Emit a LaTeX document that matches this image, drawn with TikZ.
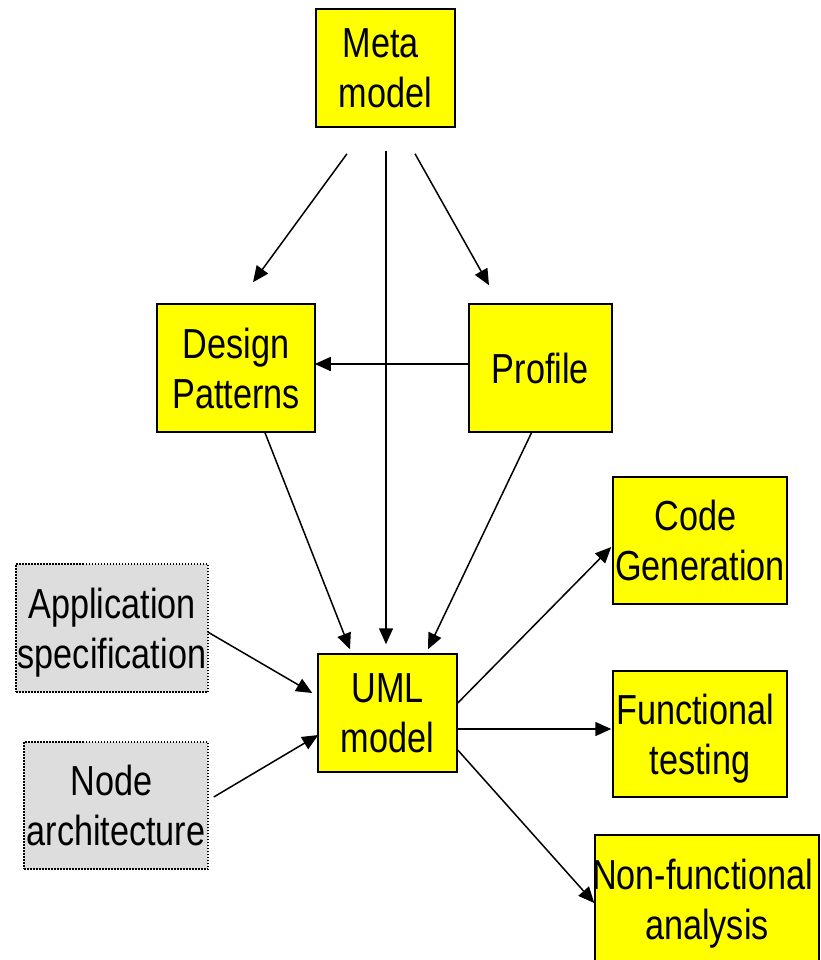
\documentclass[tikz,border=0pt]{standalone}
\usepackage{fontspec}
\setmainfont{Liberation Sans}[FakeStretch=0.815]
\usetikzlibrary{arrows.meta,calc}
\definecolor{boxyellow}{HTML}{FFFF00}
\definecolor{boxgray}{HTML}{DDDDDD}
% trailing word space kept at the end of a centred line
\newcommand\trailgap{\hspace*{9.5pt}}

\begin{document}
\begin{tikzpicture}[x=1pt,y=-1pt,
  box/.style={draw=black, line width=1.5pt, fill=boxyellow, inner sep=0pt,
    align=center, text depth=0pt, font=\fontsize{42}{50}\selectfont},
  inputbox/.style={box, fill=boxgray, dash pattern=on 1.5pt off 1.5pt},
  arr/.style={line width=1.5pt, -{Triangle[length=16pt,width=14pt]}}]
\useasboundingbox (0,0) rectangle (820,960);

% model artefacts
\node[box, minimum width=139pt, minimum height=118pt] (meta) at (385.5,68) {Meta\trailgap\\model};
\node[box, minimum width=158pt, minimum height=128pt] (design) at (236,368) {Design\\Patterns};
\node[box, minimum width=143pt, minimum height=128pt] (profile) at (540.5,368) {Profile};
\node[box, minimum width=139pt, minimum height=118pt] (uml) at (387.5,713) {UML\\model};

% outputs
\node[box, minimum width=174pt, minimum height=127pt] (code) at (700,540.5) {Code\trailgap\\Generation};
\node[box, minimum width=174pt, minimum height=126pt] (func) at (700,734) {Functional\trailgap\\testing};
\node[box, minimum width=224pt, minimum height=128pt] (nonf) at (707,899) {\hspace*{-9pt}Non-functional\\analysis};

% inputs
\node[inputbox, minimum width=192pt, minimum height=128pt] (app) at (112,628) {Application\\specification};
\node[inputbox, minimum width=184pt, minimum height=127pt] (arch) at (116,805.5) {Node\trailgap\\architecture};

% connectors
\draw[arr] ($(meta.south)+(-38.5,26)$) -- ($(design.north)+(17,-21)$);
\draw[arr] ($(meta.south)+(0.5,23)$) -- ($(uml.north)+(-1.5,-9)$);
\draw[arr] ($(meta.south)+(29.5,26)$) -- ($(profile.north)+(-51.5,-18)$);
\draw[arr] ($(profile.west)+(0,-4)$) -- ($(design.east)+(-1,-4)$);
\draw[arr] ($(design.south)+(29,0)$) -- ($(uml.north)+(-37.5,-4)$);
\draw[arr] ($(profile.south)+(-9,0)$) -- ($(uml.north)+(40.5,-4)$);
\draw[arr] ($(app.east)+(-1,4)$) -- ($(uml.west)+(-5,-20)$);
\draw[arr] ($(arch.east)+(5,-8.5)$) -- ($(uml.west)+(1,22)$);
\draw[arr] ($(uml.east)+(0,-10)$) -- ($(code.west)+(-1,6.5)$);
\draw[arr] ($(uml.east)+(0,16)$) -- ($(func.west)+(-1,-5)$);
\draw[arr] ($(uml.east)+(0,37)$) -- ($(nonf.west)+(0,4)$);
\end{tikzpicture}
\end{document}
